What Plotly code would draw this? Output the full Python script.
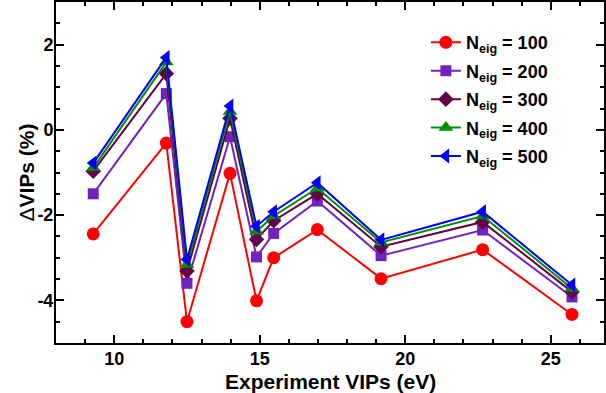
import plotly.graph_objects as go

# Data
x_vips = [9.28, 11.79, 12.50, 13.98, 14.89, 15.48, 16.98, 19.17, 22.66, 25.73]

d_100 = [-2.44, -0.31, -4.50, -1.02, -4.01, -3.00, -2.34, -3.49, -2.81, -4.33]
d_200 = [-1.50, 0.85, -3.60, -0.16, -2.98, -2.43, -1.67, -2.95, -2.35, -3.92]
d_300 = [-0.97, 1.32, -3.31, 0.27, -2.57, -2.13, -1.50, -2.74, -2.16, -3.80]
d_400 = [-0.89, 1.59, -3.16, 0.43, -2.38, -2.02, -1.37, -2.64, -2.02, -3.72]
d_500 = [-0.78, 1.70, -3.04, 0.56, -2.26, -1.92, -1.24, -2.58, -1.92, -3.64]

series_labels = ["100", "200", "300", "400", "500"]
series_values = [d_100, d_200, d_300, d_400, d_500]
colors = ["#ff0000", "#7022be", "#630047", "#008f00", "#0000ff"]
symbols = ["circle", "square", "diamond", "triangle-up", "triangle-left"]
sizes = [13, 11, 12, 13, 13]

y_tickvals = [-4, -2, 0, 2]
y_ticktext = ["-4", "-2", "0", "2"]

FONT = "Arial, Liberation Sans, sans-serif"

fig = go.Figure()
for lab, vals, c, s, sz in zip(series_labels, series_values, colors, symbols, sizes):
    fig.add_trace(go.Scatter(
        x=x_vips, y=vals, mode="lines+markers",
        name=f"<b>N<sub>eig</sub> = {lab}</b>",
        legendgroup=lab,
        line=dict(color=c, width=2),
        marker=dict(color=c, symbol=s, size=sz, line=dict(width=0)),
    ))

axis_common = dict(
    showline=True, linewidth=2, linecolor="black", mirror="ticks",
    ticks="inside", ticklen=8, tickwidth=2, tickcolor="black",
    showgrid=False, zeroline=False,
    tickfont=dict(family=FONT, size=18, color="black", weight="bold"),
)

fig.update_layout(
    width=606, height=393,
    margin=dict(l=56, r=0, t=1, b=50),
    paper_bgcolor="white", plot_bgcolor="white",
    showlegend=True,
    legend=dict(
        x=0.675, y=0.935, xanchor="left", yanchor="top",
        bgcolor="rgba(0,0,0,0)",
        font=dict(family=FONT, size=18, color="black", weight="bold"),
        itemwidth=30, tracegroupgap=2,
    ),
    xaxis=dict(
        range=[8, 26.83], dtick=5, tick0=0,
        minor=dict(dtick=1, ticks="inside", ticklen=4, tickwidth=1.5, tickcolor="black"),
        ticklabelstandoff=-2,
        **axis_common,
    ),
    yaxis=dict(
        range=[-5, 3], tickmode="array", tickvals=y_tickvals, ticktext=y_ticktext,
        minor=dict(dtick=0.5, tick0=0, ticks="inside", ticklen=4, tickwidth=1.5, tickcolor="black"),
        ticklabelstandoff=-3,
        **axis_common,
    ),
    annotations=[
        dict(
            text="Δ<b>VIPs (%)</b>", xref="paper", yref="paper",
            x=-30 / 550, y=0.5, xanchor="center", yanchor="middle",
            textangle=-90, showarrow=False,
            font=dict(family=FONT, size=21, color="black"),
        ),
        dict(
            text="<b>Experiment VIPs (eV)</b>", xref="paper", yref="paper",
            x=0.5, y=-25 / 342, xanchor="center", yanchor="top",
            showarrow=False,
            font=dict(family=FONT, size=21, color="black"),
        ),
    ],
)

fig.write_html("out.html")
